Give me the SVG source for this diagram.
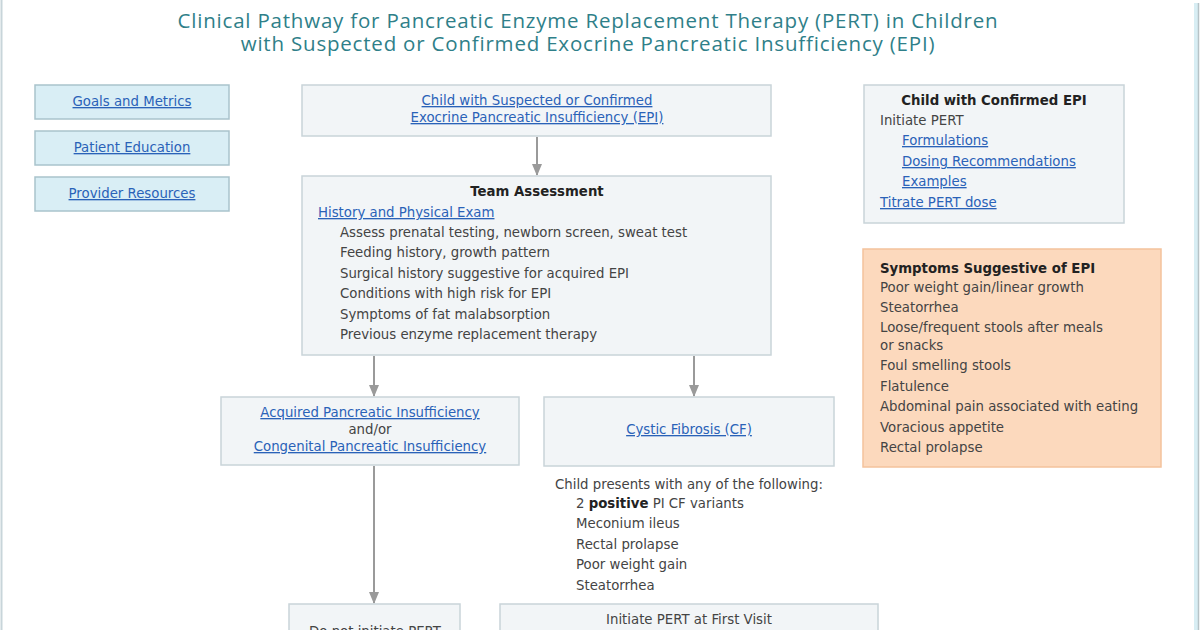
<svg xmlns="http://www.w3.org/2000/svg" width="1200" height="630" viewBox="0 0 1200 630">
<defs>
<marker id="arr" markerWidth="12" markerHeight="10" refX="11" refY="5" orient="auto" markerUnits="userSpaceOnUse">
<path d="M0,0 L12,5 L0,10 Z" fill="#9a9a9a"/>
</marker>
<style>
.title{font-family:"Open Sans",sans-serif;font-size:20.5px;letter-spacing:0.8px;fill:#2f7f89;text-anchor:middle}
.t{font-family:"DejaVu Sans",Verdana,sans-serif;font-size:13.3px;fill:#444}
.b{font-family:"DejaVu Sans",Verdana,sans-serif;font-size:13.3px;fill:#222;font-weight:bold}
.l{font-family:"DejaVu Sans",Verdana,sans-serif;font-size:13.3px;fill:#2a62b8;text-decoration:underline}
.c{text-anchor:middle}
.nav{fill:#d9eef5;stroke:#a9c3cc;stroke-width:1.5}
.box{fill:#f2f5f7;stroke:#c9d4d9;stroke-width:1.5}
.sym{fill:#fcd9bd;stroke:#f4c29c;stroke-width:1.5}
.conn{stroke:#9a9a9a;stroke-width:2;fill:none}
</style>
</defs>
<rect x="0" y="0" width="1200" height="630" fill="#ffffff"/>
<line x1="1.5" y1="0" x2="1.5" y2="630" stroke="#c8d5da" stroke-width="2"/>
<rect x="1194" y="3" width="4" height="627" fill="#d8eef4"/>
<line x1="1198.5" y1="3" x2="1198.5" y2="630" stroke="#b6c3c7" stroke-width="1.5"/>

<g id="title">
<text class="title" x="588" y="28">Clinical Pathway for Pancreatic Enzyme Replacement Therapy (PERT) in Children</text>
<text class="title" x="588" y="51">with Suspected or Confirmed Exocrine Pancreatic Insufficiency (EPI)</text>
</g>

<g id="connectors">
<line class="conn" x1="537" y1="137" x2="537" y2="175" marker-end="url(#arr)"/>
<line class="conn" x1="374" y1="356" x2="374" y2="396" marker-end="url(#arr)"/>
<line class="conn" x1="694" y1="356" x2="694" y2="396" marker-end="url(#arr)"/>
<line class="conn" x1="374" y1="466" x2="374" y2="603" marker-end="url(#arr)"/>
</g>

<g id="goals">
<rect class="nav" x="35" y="85" width="194" height="34"/>
<text class="l c" x="132" y="106">Goals and Metrics</text>
</g>
<g id="education">
<rect class="nav" x="35" y="131" width="194" height="34"/>
<text class="l c" x="132" y="152">Patient Education</text>
</g>
<g id="resources">
<rect class="nav" x="35" y="177" width="194" height="34"/>
<text class="l c" x="132" y="198">Provider Resources</text>
</g>

<g id="start">
<rect class="box" x="302" y="85" width="469" height="51"/>
<text class="l c" x="537" y="105">Child with Suspected or Confirmed</text>
<text class="l c" x="537" y="122">Exocrine Pancreatic Insufficiency (EPI)</text>
</g>

<g id="assessment">
<rect class="box" x="302" y="176" width="469" height="179"/>
<text class="b c" x="537" y="196">Team Assessment</text>
<text class="l" x="318" y="217">History and Physical Exam</text>
<text class="t" x="340" y="237">Assess prenatal testing, newborn screen, sweat test</text>
<text class="t" x="340" y="257">Feeding history, growth pattern</text>
<text class="t" x="340" y="278">Surgical history suggestive for acquired EPI</text>
<text class="t" x="340" y="298">Conditions with high risk for EPI</text>
<text class="t" x="340" y="319">Symptoms of fat malabsorption</text>
<text class="t" x="340" y="339">Previous enzyme replacement therapy</text>
</g>

<g id="acquired">
<rect class="box" x="221" y="397" width="298" height="68"/>
<text class="l c" x="370" y="417">Acquired Pancreatic Insufficiency</text>
<text class="t c" x="370" y="434">and/or</text>
<text class="l c" x="370" y="451">Congenital Pancreatic Insufficiency</text>
</g>

<g id="cf">
<rect class="box" x="544" y="397" width="290" height="69"/>
<text class="l c" x="689" y="434">Cystic Fibrosis (CF)</text>
</g>

<g id="cf-criteria">
<text class="t" x="555" y="489">Child presents with any of the following:</text>
<text class="t" x="576" y="508">2 <tspan font-weight="bold" fill="#222">positive</tspan> PI CF variants</text>
<text class="t" x="576" y="528">Meconium ileus</text>
<text class="t" x="576" y="549">Rectal prolapse</text>
<text class="t" x="576" y="569">Poor weight gain</text>
<text class="t" x="576" y="590">Steatorrhea</text>
</g>

<g id="no-pert">
<rect class="box" x="289" y="604" width="171" height="40"/>
<text class="t c" x="375" y="636">Do not initiate PERT</text>
</g>

<g id="initiate">
<rect class="box" x="500" y="604" width="378" height="40"/>
<text class="t c" x="689" y="624">Initiate PERT at First Visit</text>
</g>

<g id="confirmed">
<rect class="box" x="864" y="85" width="260" height="138"/>
<text class="b c" x="994" y="105">Child with Confirmed EPI</text>
<text class="t" x="880" y="125">Initiate PERT</text>
<text class="l" x="902" y="145">Formulations</text>
<text class="l" x="902" y="166">Dosing Recommendations</text>
<text class="l" x="902" y="186">Examples</text>
<text class="l" x="880" y="207">Titrate PERT dose</text>
</g>

<g id="symptoms">
<rect class="sym" x="863" y="249" width="298" height="218"/>
<text class="b" x="880" y="273">Symptoms Suggestive of EPI</text>
<text class="t" x="880" y="292">Poor weight gain/linear growth</text>
<text class="t" x="880" y="312">Steatorrhea</text>
<text class="t" x="880" y="332">Loose/frequent stools after meals</text>
<text class="t" x="880" y="350">or snacks</text>
<text class="t" x="880" y="370">Foul smelling stools</text>
<text class="t" x="880" y="391">Flatulence</text>
<text class="t" x="880" y="411">Abdominal pain associated with eating</text>
<text class="t" x="880" y="432">Voracious appetite</text>
<text class="t" x="880" y="452">Rectal prolapse</text>
</g>
</svg>
